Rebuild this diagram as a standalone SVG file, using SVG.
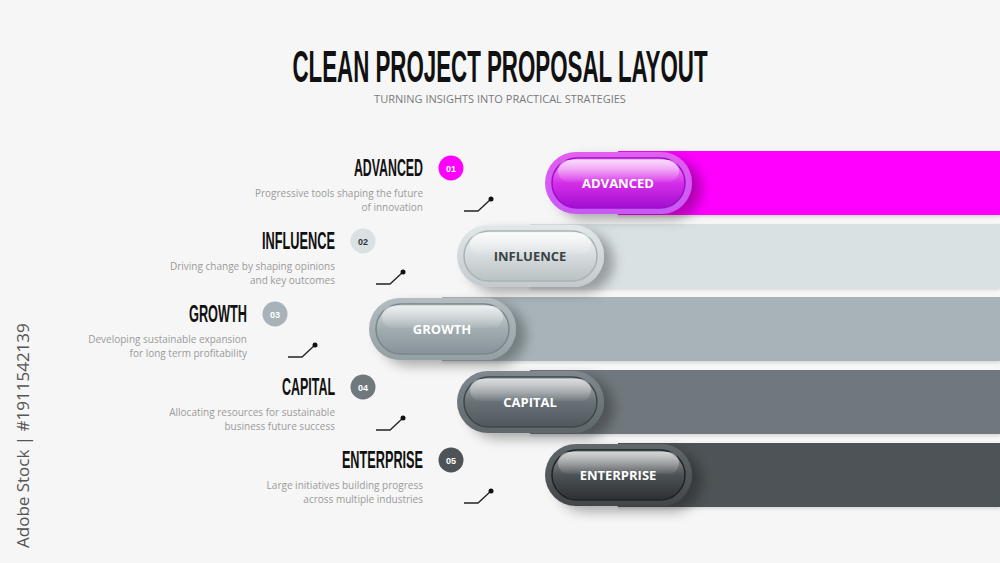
<svg xmlns="http://www.w3.org/2000/svg" width="1000" height="563" viewBox="0 0 1000 563">
<defs>
<style>
.title{font-family:"Liberation Sans",Arial,sans-serif;font-weight:bold;fill:#111}
.sub{font-family:"Open Sans","Liberation Sans",sans-serif;font-size:11px;fill:#7a7a7a}
.rt{font-family:"Liberation Sans",Arial,sans-serif;font-weight:bold;font-size:24px;fill:#111;text-anchor:end}
.desc{font-family:"Open Sans","Liberation Sans",sans-serif;font-size:10px;fill:#9a9a9a;text-anchor:end}
.num{font-family:"Liberation Sans",Arial,sans-serif;font-size:9px;text-anchor:middle;font-weight:bold}
.pt{font-family:"Open Sans","Liberation Sans",sans-serif;font-size:13px;font-weight:bold;text-anchor:middle}
.conn{fill:none;stroke:#222;stroke-width:1.3}
.wm{font-family:"Open Sans","Liberation Sans",sans-serif;font-size:17px;fill:#555}
</style>
<filter id="sh" x="-20%" y="-20%" width="160%" height="160%">
<feDropShadow dx="10" dy="6" stdDeviation="6" flood-color="#000" flood-opacity="0.3"/>
</filter>
<filter id="bsh" x="-5%" y="-20%" width="110%" height="150%">
<feDropShadow dx="0" dy="2" stdDeviation="1.5" flood-color="#000" flood-opacity="0.12"/>
</filter>
<linearGradient id="r1" x1="0" y1="0" x2="0" y2="1"><stop offset="0" stop-color="#e35ef0"/><stop offset="1" stop-color="#c65af5"/></linearGradient>
<linearGradient id="i1" x1="0" y1="0" x2="0" y2="1"><stop offset="0" stop-color="#f7b5fa"/><stop offset="0.5" stop-color="#d52ee8"/><stop offset="1" stop-color="#a20fd0"/></linearGradient>
<linearGradient id="r2" x1="0" y1="0" x2="0" y2="1"><stop offset="0" stop-color="#e2e7e9"/><stop offset="1" stop-color="#c3cacd"/></linearGradient>
<linearGradient id="i2" x1="0" y1="0" x2="0" y2="1"><stop offset="0" stop-color="#f6f8f8"/><stop offset="0.5" stop-color="#d6dcde"/><stop offset="1" stop-color="#b9c1c4"/></linearGradient>
<linearGradient id="r3" x1="0" y1="0" x2="0" y2="1"><stop offset="0" stop-color="#b3bdc1"/><stop offset="1" stop-color="#949fa4"/></linearGradient>
<linearGradient id="i3" x1="0" y1="0" x2="0" y2="1"><stop offset="0" stop-color="#d8dee0"/><stop offset="0.5" stop-color="#a2adb1"/><stop offset="1" stop-color="#87939a"/></linearGradient>
<linearGradient id="r4" x1="0" y1="0" x2="0" y2="1"><stop offset="0" stop-color="#80898e"/><stop offset="1" stop-color="#5d666b"/></linearGradient>
<linearGradient id="i4" x1="0" y1="0" x2="0" y2="1"><stop offset="0" stop-color="#b3b9bc"/><stop offset="0.5" stop-color="#687176"/><stop offset="1" stop-color="#50585d"/></linearGradient>
<linearGradient id="r5" x1="0" y1="0" x2="0" y2="1"><stop offset="0" stop-color="#62686b"/><stop offset="1" stop-color="#41464a"/></linearGradient>
<linearGradient id="i5" x1="0" y1="0" x2="0" y2="1"><stop offset="0" stop-color="#a3a7a9"/><stop offset="0.5" stop-color="#4c5255"/><stop offset="1" stop-color="#2c3033"/></linearGradient>
<linearGradient id="gl" x1="0" y1="0" x2="0" y2="1"><stop offset="0" stop-color="#fff" stop-opacity="0.55"/><stop offset="1" stop-color="#fff" stop-opacity="0.05"/></linearGradient>
</defs>
<rect width="1000" height="563" fill="#f6f6f6"/>

<text class="title" transform="translate(500,82) scale(0.507,1)" x="0" y="0" font-size="44" text-anchor="middle">CLEAN PROJECT PROPOSAL LAYOUT</text>
<text class="sub" x="500" y="103" text-anchor="middle">TURNING INSIGHTS INTO PRACTICAL STRATEGIES</text>

<text class="wm" transform="translate(29,548) rotate(-90)">Adobe Stock | #1911542139</text>

<g id="bars">
<rect x="618" y="151" width="382" height="64" fill="#ff00ff" filter="url(#bsh)"/>
<rect x="530" y="224" width="470" height="64" fill="#d9e1e3" filter="url(#bsh)"/>
<rect x="442" y="297" width="558" height="64" fill="#a7b3b8" filter="url(#bsh)"/>
<rect x="530" y="370" width="470" height="64" fill="#6f787d" filter="url(#bsh)"/>
<rect x="618" y="443" width="382" height="64" fill="#4d5356" filter="url(#bsh)"/>
</g>

<g id="connectors">
<path class="conn" d="M464 211 H478 L491 199"/><circle cx="491" cy="199" r="2.5" fill="#111"/>
<path class="conn" d="M376 284 H390 L403 272"/><circle cx="403" cy="272" r="2.5" fill="#111"/>
<path class="conn" d="M288 357 H302 L315 345"/><circle cx="315" cy="345" r="2.5" fill="#111"/>
<path class="conn" d="M376 430 H390 L403 418"/><circle cx="403" cy="418" r="2.5" fill="#111"/>
<path class="conn" d="M464 503 H478 L491 491"/><circle cx="491" cy="491" r="2.5" fill="#111"/>
</g>

<g id="node1">
<text class="rt" transform="translate(423,176) scale(0.515,1)">ADVANCED</text>
<circle cx="451" cy="168" r="12.5" fill="#ff00ff"/>
<text class="num" x="451" y="171.5" fill="#fff">01</text>
<text class="desc" x="423" y="197">Progressive tools shaping the future</text>
<text class="desc" x="423" y="211">of innovation</text>
<g filter="url(#sh)">
<rect x="545" y="152" width="147" height="62" rx="31" fill="url(#r1)"/>
</g>
<rect x="552" y="158" width="133" height="50" rx="25" fill="url(#i1)" stroke="#a00ccc" stroke-width="1.5"/>
<rect x="558" y="160" width="121" height="22" rx="11" fill="url(#gl)"/>
<text class="pt" x="618" y="188" fill="#fff">ADVANCED</text>
</g>

<g id="node2">
<text class="rt" transform="translate(335,249) scale(0.532,1)">INFLUENCE</text>
<circle cx="363" cy="241" r="12.5" fill="#d9e1e3"/>
<text class="num" x="363" y="244.5" fill="#333">02</text>
<text class="desc" x="335" y="270">Driving change by shaping opinions</text>
<text class="desc" x="335" y="284">and key outcomes</text>
<g filter="url(#sh)">
<rect x="457" y="225" width="147" height="62" rx="31" fill="url(#r2)"/>
</g>
<rect x="464" y="231" width="133" height="50" rx="25" fill="url(#i2)" stroke="#aab2b5" stroke-width="1.5"/>
<rect x="470" y="233" width="121" height="22" rx="11" fill="url(#gl)"/>
<text class="pt" x="530" y="261" fill="#3b4245">INFLUENCE</text>
</g>

<g id="node3">
<text class="rt" transform="translate(247,322) scale(0.531,1)">GROWTH</text>
<circle cx="275" cy="314" r="12.5" fill="#a7b3b8"/>
<text class="num" x="275" y="317.5" fill="#fff">03</text>
<text class="desc" x="247" y="343">Developing sustainable expansion</text>
<text class="desc" x="247" y="357">for long term profitability</text>
<g filter="url(#sh)">
<rect x="369" y="298" width="147" height="62" rx="31" fill="url(#r3)"/>
</g>
<rect x="376" y="304" width="133" height="50" rx="25" fill="url(#i3)" stroke="#7a868b" stroke-width="1.5"/>
<rect x="382" y="306" width="121" height="22" rx="11" fill="url(#gl)"/>
<text class="pt" x="442" y="334" fill="#fff">GROWTH</text>
</g>

<g id="node4">
<text class="rt" transform="translate(335,395) scale(0.519,1)">CAPITAL</text>
<circle cx="363" cy="387" r="12.5" fill="#6f787d"/>
<text class="num" x="363" y="390.5" fill="#fff">04</text>
<text class="desc" x="335" y="416">Allocating resources for sustainable</text>
<text class="desc" x="335" y="430">business future success</text>
<g filter="url(#sh)">
<rect x="457" y="371" width="147" height="62" rx="31" fill="url(#r4)"/>
</g>
<rect x="464" y="377" width="133" height="50" rx="25" fill="url(#i4)" stroke="#3f464a" stroke-width="1.5"/>
<rect x="470" y="379" width="121" height="22" rx="11" fill="url(#gl)"/>
<text class="pt" x="530" y="407" fill="#fff">CAPITAL</text>
</g>

<g id="node5">
<text class="rt" transform="translate(423,468) scale(0.529,1)">ENTERPRISE</text>
<circle cx="451" cy="460" r="12.5" fill="#4d5356"/>
<text class="num" x="451" y="463.5" fill="#fff">05</text>
<text class="desc" x="423" y="489">Large initiatives building progress</text>
<text class="desc" x="423" y="503">across multiple industries</text>
<g filter="url(#sh)">
<rect x="545" y="444" width="147" height="62" rx="31" fill="url(#r5)"/>
</g>
<rect x="552" y="450" width="133" height="50" rx="25" fill="url(#i5)" stroke="#1f2325" stroke-width="1.5"/>
<rect x="558" y="452" width="121" height="22" rx="11" fill="url(#gl)"/>
<text class="pt" x="618" y="480" fill="#fff">ENTERPRISE</text>
</g>
</svg>
